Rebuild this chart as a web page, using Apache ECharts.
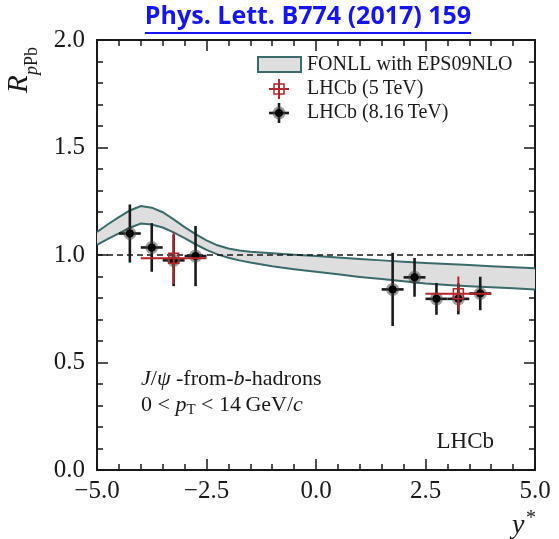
<!DOCTYPE html>
<html>
<head>
<meta charset="utf-8">
<script src="https://cdn.jsdelivr.net/npm/echarts@6/dist/echarts.min.js"></script>
<style>
  html, body { margin: 0; padding: 0; background: #fff; }
  #chart { width: 559px; height: 539px; }
</style>
</head>
<body>
<div id="chart"></div>
<script>
// FONLL with EPS09NLO prediction: lower and upper edge of the band vs y*
const bandY    = [-5.0, -4.75, -4.5, -4.25, -4.0, -3.75, -3.5, -3.25, -3.0, -2.75, -2.5, -2.25, -2.0, -1.75, -1.5, -1.0, -0.5, 0.0, 0.5, 1.0, 1.5, 2.0, 2.5, 3.0, 3.5, 4.0, 4.5, 5.0];
const bandLow  = [1.047, 1.075, 1.101, 1.127, 1.146, 1.142, 1.128, 1.105, 1.078, 1.050, 1.024, 1.003, 0.987, 0.975, 0.965, 0.948, 0.934, 0.922, 0.910, 0.898, 0.888, 0.878, 0.868, 0.861, 0.855, 0.850, 0.845, 0.840];
const bandHigh = [1.107, 1.143, 1.176, 1.207, 1.228, 1.220, 1.199, 1.166, 1.130, 1.097, 1.068, 1.045, 1.030, 1.021, 1.015, 1.008, 1.001, 0.995, 0.988, 0.981, 0.975, 0.969, 0.963, 0.958, 0.953, 0.948, 0.943, 0.938];

// LHCb 8.16 TeV: bin centre, half width, R_pPb and uncertainty
const y816     = [-4.25, -3.75, -3.25, -2.75, 1.75, 2.25, 2.75, 3.25, 3.75];
const half816  = [0.25, 0.25, 0.25, 0.25, 0.25, 0.25, 0.25, 0.25, 0.25];
const r816     = [1.100, 1.035, 0.975, 0.995, 0.840, 0.896, 0.796, 0.796, 0.821];
const err816   = [0.135, 0.113, 0.120, 0.140, 0.170, 0.090, 0.074, 0.072, 0.078];

// LHCb 5 TeV: wide bins
const y5       = [-3.25, 3.25];
const half5    = [0.75, 0.75];
const r5       = [0.985, 0.820];
const err5     = [0.120, 0.080];

// Unity reference level
const unityLevel = 1.0;

const xTickLabels = ['\u22125.0', '\u22122.5', '0.0', '2.5', '5.0'];
const yTickLabels = ['0.0', '0.5', '1.0', '1.5', '2.0'];

const SERIF = '"Liberation Serif", "DejaVu Serif", serif';
const INK = '#1a1a1a';
const RED = '#b3262b';
const TEAL = '#3b6a6a';
const BAND = '#dedede';

const chart = echarts.init(document.getElementById('chart'), null, { renderer: 'canvas' });

function axisCommon(showLabels) {
  return {
    axisLine: { show: true, onZero: false, lineStyle: { color: INK, width: 2 } },
    axisTick: { show: true, inside: true, length: 11, lineStyle: { color: INK, width: 1.5 } },
    minorTick: { show: true, splitNumber: 5, length: 6, lineStyle: { color: INK, width: 1.5 } },
    splitLine: { show: false },
    minorSplitLine: { show: false },
    axisLabel: { show: showLabels, fontFamily: SERIF, fontSize: 25, color: INK }
  };
}

function xAxisDef(pos, showLabels) {
  const a = axisCommon(showLabels);
  a.type = 'value'; a.min = -5; a.max = 5; a.interval = 2.5; a.position = pos;
  a.axisLabel.margin = 9;
  a.axisLabel.formatter = v => xTickLabels[Math.round((v + 5) / 2.5)];
  return a;
}
function yAxisDef(pos, showLabels) {
  const a = axisCommon(showLabels);
  a.type = 'value'; a.min = 0; a.max = 2; a.interval = 0.5; a.position = pos;
  a.axisLabel.margin = 12;
  a.axisLabel.formatter = v => yTickLabels[Math.round(v / 0.5)];
  return a;
}

// Error-bar renderer: horizontal bin width, vertical uncertainty, marker on top
function makeErrRender(kind) {
  return function (params, api) {
    const x = api.value(0), v = api.value(1);
    const c = api.coord([x, v]);
    const pl = api.coord([api.value(2), v]);
    const ph = api.coord([api.value(3), v]);
    const pb = api.coord([x, api.value(4)]);
    const pt = api.coord([x, api.value(5)]);
    const color = kind === 'red' ? RED : INK;
    const lw = kind === 'red' ? 2 : 2.6;
    const children = [
      { type: 'line', shape: { x1: pl[0], y1: c[1], x2: ph[0], y2: c[1] }, style: { stroke: color, lineWidth: lw } },
      { type: 'line', shape: { x1: c[0], y1: pb[1], x2: c[0], y2: pt[1] }, style: { stroke: color, lineWidth: lw } }
    ];
    if (kind === 'red') {
      children.push({ type: 'rect', shape: { x: c[0] - 5, y: c[1] - 5, width: 10, height: 10 },
        style: { fill: 'rgba(0,0,0,0)', stroke: RED, lineWidth: 1.5 } });
    } else {
      children.push({ type: 'circle', shape: { cx: c[0], cy: c[1], r: 6.5 }, style: { fill: 'rgba(60,60,60,0.5)' } });
      children.push({ type: 'circle', shape: { cx: c[0], cy: c[1], r: 4 }, style: { fill: '#000' } });
    }
    return { type: 'group', children: children };
  };
}

const data816 = y816.map((y, i) => [y, r816[i], y - half816[i], y + half816[i], r816[i] - err816[i], r816[i] + err816[i]]);
const data5 = y5.map((y, i) => [y, r5[i], y - half5[i], y + half5[i], r5[i] - err5[i], r5[i] + err5[i]]);

// Legend glyphs and free text
const LX = 279;
const graphics = [
  // legend
  { type: 'rect', shape: { x: 258, y: 57, width: 43, height: 15 }, style: { fill: BAND, stroke: TEAL, lineWidth: 2 } },
  { type: 'text', x: 307, y: 65, style: { text: 'FONLL with EPS09NLO', font: '20px ' + SERIF, fill: INK, verticalAlign: 'middle' } },
  { type: 'line', shape: { x1: LX - 10, y1: 89, x2: LX + 10, y2: 89 }, style: { stroke: RED, lineWidth: 2 } },
  { type: 'line', shape: { x1: LX, y1: 79, x2: LX, y2: 99 }, style: { stroke: RED, lineWidth: 2 } },
  { type: 'rect', shape: { x: LX - 5, y: 84, width: 10, height: 10 }, style: { fill: 'rgba(0,0,0,0)', stroke: RED, lineWidth: 1.5 } },
  { type: 'text', x: 307, y: 89, style: { text: 'LHCb (5\u2009TeV)', font: '20px ' + SERIF, fill: INK, verticalAlign: 'middle' } },
  { type: 'line', shape: { x1: LX - 10, y1: 113, x2: LX + 10, y2: 113 }, style: { stroke: INK, lineWidth: 2.6 } },
  { type: 'line', shape: { x1: LX, y1: 103, x2: LX, y2: 123 }, style: { stroke: INK, lineWidth: 2.6 } },
  { type: 'circle', shape: { cx: LX, cy: 113, r: 6.5 }, style: { fill: 'rgba(60,60,60,0.5)' } },
  { type: 'circle', shape: { cx: LX, cy: 113, r: 4 }, style: { fill: '#000' } },
  { type: 'text', x: 307, y: 113, style: { text: 'LHCb (8.16\u2009TeV)', font: '20px ' + SERIF, fill: INK, verticalAlign: 'middle' } },

  // process label
  { type: 'text', x: 141, y: 379, style: {
      text: '{i|J}{r|/}{i|\u03c8}{r| -from-}{i|b}{r|-hadrons}',
      verticalAlign: 'middle',
      rich: {
        i: { fontFamily: SERIF, fontSize: 22, fontStyle: 'italic', fill: INK },
        r: { fontFamily: SERIF, fontSize: 22, fill: INK }
      } } },
  { type: 'text', x: 141, y: 405, style: {
      text: '{r|0 < }{i|p}{s|T}{r| < 14\u2009GeV/}{i|c}',
      verticalAlign: 'middle',
      rich: {
        i: { fontFamily: SERIF, fontSize: 22, fontStyle: 'italic', fill: INK, lineHeight: 26 },
        r: { fontFamily: SERIF, fontSize: 22, fill: INK, lineHeight: 26 },
        s: { fontFamily: SERIF, fontSize: 15, fill: INK, verticalAlign: 'bottom', lineHeight: 15, padding: [11, 0, 0, 0] }
      } } },

  // experiment tag
  { type: 'text', x: 494, y: 442, style: { text: 'LHCb', font: '23px ' + SERIF, fill: INK, align: 'right', verticalAlign: 'middle' } },

  // axis titles
  { type: 'group', x: 34, y: 93, rotation: Math.PI / 2, children: [
      { type: 'text', x: 0, y: 0, style: { text: 'R', font: 'italic 29px ' + SERIF, fill: INK, verticalAlign: 'bottom' } },
      { type: 'text', x: 18, y: 7, style: { text: 'p', font: 'italic 18px ' + SERIF, fill: INK, verticalAlign: 'bottom' } },
      { type: 'text', x: 27, y: 7, style: { text: 'Pb', font: '18px ' + SERIF, fill: INK, verticalAlign: 'bottom' } }
  ] },
  { type: 'text', x: 512, y: 512, style: { text: 'y', font: 'italic 28px ' + SERIF, fill: INK } },
  { type: 'text', x: 526, y: 509, style: { text: '*', font: '20px ' + SERIF, fill: INK } }
];

// Journal reference above the frame, underlined
const refText = 'Phys. Lett. B774 (2017) 159';
const refFont = 'bold 25px "Open Sans", "Liberation Sans", sans-serif';
const mctx = document.createElement('canvas').getContext('2d');
mctx.font = refFont;
const refW = mctx.measureText(refText).width;
const refCx = 308;
graphics.push({ type: 'text', x: refCx, y: 17, style: { text: refText, font: refFont, fill: '#1515f0', align: 'center', verticalAlign: 'middle' } });
graphics.push({ type: 'line', shape: { x1: refCx - refW / 2, y1: 33, x2: refCx + refW / 2, y2: 33 }, style: { stroke: '#1515f0', lineWidth: 2 } });

chart.setOption({
  animation: false,
  backgroundColor: '#fff',
  grid: { left: 97, right: 24, top: 40, bottom: 69, containLabel: false },
  xAxis: [xAxisDef('bottom', true), xAxisDef('top', false)],
  yAxis: [yAxisDef('left', true), yAxisDef('right', false)],
  graphic: graphics,
  series: [
    {
      name: 'FONLL with EPS09NLO',
      type: 'custom',
      xAxisIndex: 0, yAxisIndex: 0,
      silent: true,
      z: 1,
      data: [[0, unityLevel]],
      renderItem: function (params, api) {
        const up = bandY.map((x, i) => api.coord([x, bandHigh[i]]));
        const lo = bandY.map((x, i) => api.coord([x, bandLow[i]]));
        return { type: 'group', children: [
          { type: 'polygon', shape: { points: up.concat(lo.slice().reverse()) }, style: { fill: BAND } },
          { type: 'polyline', shape: { points: up }, style: { stroke: TEAL, lineWidth: 2, fill: null } },
          { type: 'polyline', shape: { points: lo }, style: { stroke: TEAL, lineWidth: 2, fill: null } }
        ] };
      }
    },
    {
      name: 'unity',
      type: 'line',
      z: 2,
      symbol: 'none',
      silent: true,
      data: [[-5, unityLevel], [5, unityLevel]],
      lineStyle: { color: INK, width: 1.6, type: [6, 4] }
    },
    {
      name: 'LHCb (8.16 TeV)',
      type: 'custom',
      z: 3,
      data: data816,
      encode: { x: [0, 2, 3], y: [1, 4, 5] },
      renderItem: makeErrRender('black')
    },
    {
      name: 'LHCb (5 TeV)',
      type: 'custom',
      z: 4,
      data: data5,
      encode: { x: [0, 2, 3], y: [1, 4, 5] },
      renderItem: makeErrRender('red')
    }
  ]
});
</script>
</body>
</html>
